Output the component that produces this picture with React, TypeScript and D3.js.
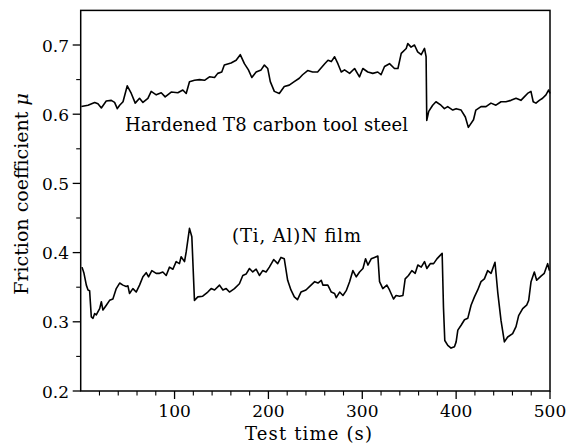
import { useEffect, useRef } from "react";
import * as d3 from "d3";

// upper curve: hardened T8 carbon tool steel
const steelTime = [0.7, 7.8, 14.9, 18.4, 22, 27.2, 32.6, 36.1, 39, 41.5, 45.1, 49.6, 53.9, 58.1, 62.7, 66.3, 71.6, 75.1, 80.5, 85.8, 90, 96.4, 103.5, 108.8, 112.4, 115.9, 121.2, 126.6, 131.9, 137.2, 142.6, 146, 150.3, 153, 160.2, 165.6, 170, 174.4, 178.7, 182.3, 186.9, 192.2, 195.7, 199.3, 202, 206.3, 211.6, 216.9, 222.2, 227.5, 232.9, 236.4, 241.8, 247.1, 252.4, 260, 263.5, 267, 270.5, 274, 277.6, 281.1, 286.5, 291.8, 297, 300.6, 305.9, 311.2, 316.5, 320, 323.7, 329, 334.3, 338, 341.5, 346.8, 348.5, 352, 355.6, 359, 362.8, 366.3, 368, 368.7, 370.8, 375, 378.5, 383.8, 387.5, 391, 396.4, 400, 405.3, 409.8, 413, 418.5, 421, 426.5, 431.8, 437.1, 442.4, 447.8, 453, 458.4, 463.8, 469, 472.6, 476.1, 479.7, 482.1, 485, 488.6, 492.1, 495.7, 498.6, 500];
const steelMu = [0.611, 0.613, 0.617, 0.615, 0.609, 0.619, 0.62, 0.617, 0.608, 0.613, 0.618, 0.641, 0.63, 0.616, 0.623, 0.617, 0.623, 0.633, 0.628, 0.631, 0.625, 0.632, 0.631, 0.635, 0.63, 0.647, 0.649, 0.65, 0.649, 0.654, 0.653, 0.659, 0.661, 0.671, 0.674, 0.678, 0.686, 0.673, 0.664, 0.653, 0.661, 0.664, 0.671, 0.666, 0.647, 0.633, 0.63, 0.64, 0.642, 0.647, 0.652, 0.657, 0.663, 0.661, 0.661, 0.673, 0.678, 0.676, 0.683, 0.673, 0.661, 0.664, 0.659, 0.666, 0.654, 0.666, 0.661, 0.659, 0.661, 0.657, 0.669, 0.673, 0.666, 0.666, 0.688, 0.695, 0.702, 0.697, 0.7, 0.69, 0.686, 0.695, 0.683, 0.591, 0.604, 0.613, 0.618, 0.613, 0.608, 0.611, 0.606, 0.608, 0.606, 0.596, 0.581, 0.592, 0.606, 0.611, 0.611, 0.616, 0.613, 0.618, 0.618, 0.62, 0.623, 0.62, 0.625, 0.63, 0.633, 0.618, 0.616, 0.62, 0.623, 0.628, 0.635, 0.63];

// lower curve: (Ti, Al)N film
const filmTime = [1.4, 3.5, 6, 7.8, 9.5, 11.3, 13.1, 14.9, 16.6, 20.2, 22, 23.7, 27.3, 30.8, 34.3, 37.9, 41.5, 45, 48.5, 50.3, 52, 55.6, 59.1, 62.7, 66.3, 69.8, 72.3, 75.8, 80.4, 84, 87.5, 91.1, 94.6, 98.2, 101.7, 105.2, 107, 110.6, 112.4, 115.9, 118.4, 121.2, 124.8, 130, 135.4, 139, 142.6, 147.9, 151.5, 155, 158.5, 163.8, 169.1, 172.7, 176.2, 179.8, 183.3, 186.9, 190.4, 193.9, 197.5, 201, 205.6, 209.9, 213.4, 216.9, 220.5, 224, 227.6, 231, 234.7, 240, 245.4, 249.3, 252.8, 256.3, 258, 263.3, 267, 270.5, 272.3, 275.9, 279.4, 282.9, 286.5, 290, 293.6, 297.1, 300.7, 303.5, 306, 309.5, 313, 316.6, 318.4, 321.9, 326.2, 329, 333.3, 336, 339.7, 343.3, 345.7, 349.2, 352.8, 356.4, 359.2, 362.8, 366.3, 368.8, 372.4, 376, 379.5, 383, 385.1, 386.5, 387.9, 391.1, 394.6, 398.2, 400, 401.8, 405.3, 408.9, 412.4, 415.9, 419.5, 423, 426.5, 430.1, 433.6, 437.2, 441.4, 444.3, 447.8, 451.4, 454.9, 460.2, 463.8, 466.6, 470.9, 475.1, 477.3, 479.8, 483.3, 485.8, 490.4, 493.9, 497.5, 499.3];
const filmMu = [0.379, 0.37, 0.353, 0.346, 0.345, 0.307, 0.305, 0.312, 0.31, 0.319, 0.329, 0.317, 0.324, 0.331, 0.333, 0.348, 0.356, 0.353, 0.351, 0.352, 0.341, 0.348, 0.343, 0.353, 0.365, 0.371, 0.365, 0.374, 0.37, 0.37, 0.372, 0.367, 0.379, 0.376, 0.387, 0.384, 0.394, 0.387, 0.401, 0.435, 0.423, 0.331, 0.336, 0.337, 0.343, 0.348, 0.346, 0.353, 0.346, 0.348, 0.343, 0.348, 0.355, 0.367, 0.369, 0.377, 0.372, 0.376, 0.367, 0.374, 0.372, 0.379, 0.39, 0.384, 0.393, 0.391, 0.36, 0.346, 0.336, 0.332, 0.343, 0.346, 0.353, 0.358, 0.356, 0.36, 0.353, 0.353, 0.343, 0.341, 0.335, 0.343, 0.338, 0.345, 0.358, 0.374, 0.365, 0.372, 0.377, 0.391, 0.382, 0.391, 0.393, 0.395, 0.358, 0.348, 0.353, 0.346, 0.333, 0.338, 0.337, 0.338, 0.362, 0.367, 0.374, 0.37, 0.382, 0.379, 0.387, 0.377, 0.384, 0.384, 0.391, 0.396, 0.399, 0.321, 0.273, 0.266, 0.262, 0.264, 0.271, 0.288, 0.295, 0.303, 0.305, 0.324, 0.336, 0.346, 0.358, 0.362, 0.374, 0.37, 0.386, 0.343, 0.302, 0.271, 0.278, 0.283, 0.293, 0.309, 0.319, 0.324, 0.331, 0.358, 0.372, 0.36, 0.366, 0.37, 0.384, 0.374];

const xMajorTicks = [100, 200, 300, 400, 500];
const xMinorTicks = [20, 40, 60, 80, 120, 140, 160, 180, 220, 240, 260, 280, 320, 340, 360, 380, 420, 440, 460, 480];
const yMajorTicks = [0.2, 0.3, 0.4, 0.5, 0.6, 0.7];
const yMinorTicks = [0.25, 0.35, 0.45, 0.55, 0.65];

// only DejaVu Serif comes out with serifs in the sandbox
const FONT = 'DejaVu Serif';

export default function App() {
    const svgRef = useRef<SVGSVGElement | null>(null);

    useEffect(() => {
        const svg = d3.select(svgRef.current);
        svg.selectAll('*').remove();

        const x = d3.scaleLinear().domain([0, 500]).range([80.7, 550]);
        const y = d3.scaleLinear().domain([0.2, 0.75]).range([391, 10.4]);

        svg.append('rect')
            .attr('x', x(0))
            .attr('y', y(0.75))
            .attr('width', x(500) - x(0))
            .attr('height', y(0.2) - y(0.75))
            .attr('fill', 'none')
            .attr('stroke', 'black')
            .attr('stroke-width', 1.5);

        // x ticks
        svg.selectAll('.xmaj').data(xMajorTicks).enter().append('line')
            .attr('x1', d => x(d)).attr('x2', d => x(d))
            .attr('y1', y(0.2)).attr('y2', y(0.2) + 8)
            .attr('stroke', 'black').attr('stroke-width', 1.3);
        svg.selectAll('.xmin').data(xMinorTicks).enter().append('line')
            .attr('x1', d => x(d)).attr('x2', d => x(d))
            .attr('y1', y(0.2)).attr('y2', y(0.2) + 4.5)
            .attr('stroke', 'black').attr('stroke-width', 1.1);
        svg.selectAll('.xlab').data(xMajorTicks).enter().append('text')
            .attr('x', d => x(d)).attr('y', 417)
            .attr('text-anchor', 'middle')
            .attr('font-family', FONT).attr('font-size', 17)
            .text(d => String(d));

        // y ticks
        svg.selectAll('.ymaj').data(yMajorTicks).enter().append('line')
            .attr('x1', x(0) - 8).attr('x2', x(0))
            .attr('y1', d => y(d)).attr('y2', d => y(d))
            .attr('stroke', 'black').attr('stroke-width', 1.3);
        svg.selectAll('.ymin').data(yMinorTicks).enter().append('line')
            .attr('x1', x(0) - 4.5).attr('x2', x(0))
            .attr('y1', d => y(d)).attr('y2', d => y(d))
            .attr('stroke', 'black').attr('stroke-width', 1.1);
        svg.selectAll('.ylab').data(yMajorTicks).enter().append('text')
            .attr('x', 69).attr('y', d => y(d) + 6.5)
            .attr('text-anchor', 'end')
            .attr('font-family', FONT).attr('font-size', 17)
            .text(d => d.toFixed(1));

        const line = d3.line<[number, number]>()
            .x(d => x(d[0]))
            .y(d => y(d[1]));
        [d3.zip(steelTime, steelMu), d3.zip(filmTime, filmMu)].forEach(pts => {
            svg.append('path')
                .attr('d', line(pts as [number, number][]))
                .attr('fill', 'none')
                .attr('stroke', 'black')
                .attr('stroke-width', 1.6)
                .attr('stroke-linejoin', 'round');
        });

        svg.append('text')
            .attr('x', 125).attr('y', 131)
            .attr('textLength', 283).attr('lengthAdjust', 'spacing')
            .attr('font-family', FONT).attr('font-size', 18)
            .text('Hardened T8 carbon tool steel');
        svg.append('text')
            .attr('x', 232).attr('y', 242)
            .attr('textLength', 129).attr('lengthAdjust', 'spacing')
            .attr('font-family', FONT).attr('font-size', 18)
            .text('(Ti, Al)N film');
        svg.append('text')
            .attr('x', 245).attr('y', 440)
            .attr('textLength', 127).attr('lengthAdjust', 'spacing')
            .attr('font-family', FONT).attr('font-size', 18)
            .text('Test time (s)');

        const yTitle = svg.append('text')
            .attr('transform', 'translate(28, 194) rotate(-90)')
            .attr('text-anchor', 'middle')
            .attr('font-family', FONT).attr('font-size', 19);
        yTitle.append('tspan').text('Friction coefficient ');
        yTitle.append('tspan').attr('font-style', 'italic').text('μ');
    }, []);

    return (
        <svg ref={svgRef} width={569} height={445}
            style={{ position: 'absolute', left: 0, top: 0, background: 'white' }} />
    );
}
